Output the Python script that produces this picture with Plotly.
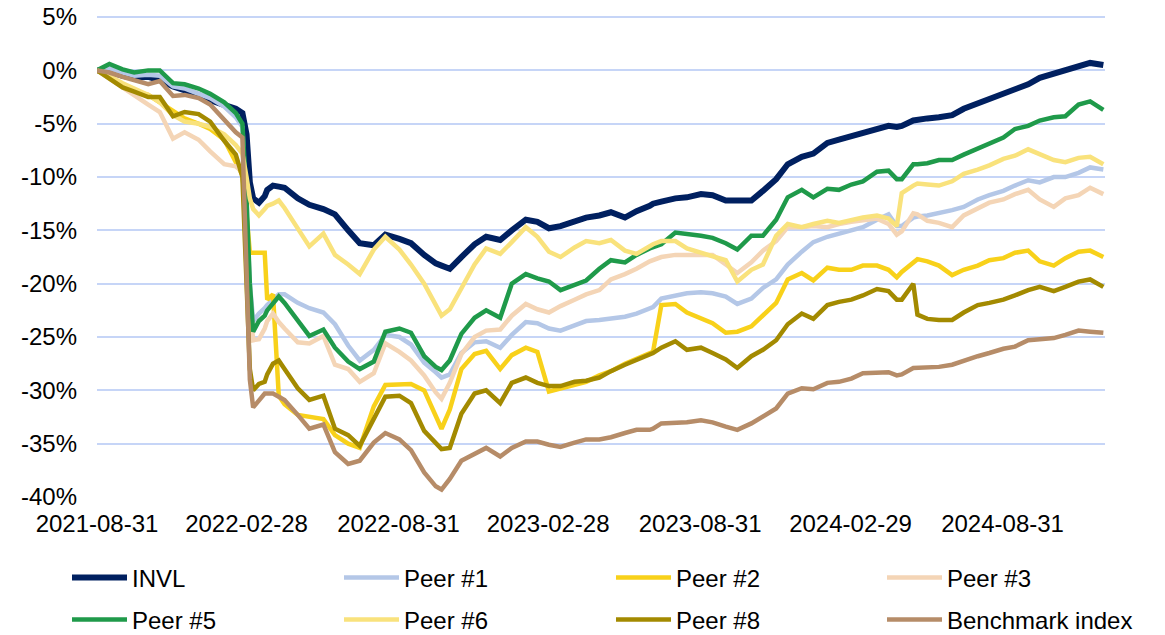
import plotly.graph_objects as go

dates = [
    "2021-08-31", "2021-09-15", "2021-10-01", "2021-10-15", "2021-11-01", "2021-11-15",
    "2021-12-01", "2021-12-15", "2022-01-01", "2022-01-15", "2022-02-01", "2022-02-15",
    "2022-02-23", "2022-02-28", "2022-03-04", "2022-03-08", "2022-03-15", "2022-03-22",
    "2022-03-25", "2022-04-01", "2022-04-08", "2022-04-15", "2022-05-01", "2022-05-15",
    "2022-06-01", "2022-06-15", "2022-07-01", "2022-07-15", "2022-08-01", "2022-08-15",
    "2022-09-01", "2022-09-15", "2022-10-01", "2022-10-15", "2022-10-22", "2022-11-01",
    "2022-11-15", "2022-12-01", "2022-12-15", "2023-01-01", "2023-01-15", "2023-02-01",
    "2023-02-15", "2023-03-01", "2023-03-15", "2023-04-01", "2023-04-15", "2023-05-01",
    "2023-05-15", "2023-06-01", "2023-06-15", "2023-07-01", "2023-07-05", "2023-07-15",
    "2023-08-01", "2023-08-15", "2023-09-01", "2023-09-15", "2023-10-01", "2023-10-15",
    "2023-11-01", "2023-11-15", "2023-12-01", "2023-12-15", "2024-01-01", "2024-01-15",
    "2024-02-01", "2024-02-15", "2024-03-01", "2024-03-15", "2024-04-01", "2024-04-15",
    "2024-04-25", "2024-05-01", "2024-05-15", "2024-05-20", "2024-06-01", "2024-06-15",
    "2024-07-01", "2024-07-15", "2024-08-01", "2024-08-15", "2024-09-01", "2024-09-15",
    "2024-10-01", "2024-10-15", "2024-11-01", "2024-11-15", "2024-12-01", "2024-12-15",
    "2024-12-31",
]

invl = [
    0.0, -0.1, -0.5, -0.7, -0.6, -0.9, -1.5, -1.8, -2.3, -2.8, -3.3, -3.6,
    -4.0, -6.0, -10.5, -12.0, -12.4, -11.8, -11.2, -10.8, -10.9, -11.0, -12.0, -12.6,
    -13.0, -13.5, -15.0, -16.2, -16.4, -15.4, -15.8, -16.2, -17.3, -18.1, -18.3, -18.6,
    -17.5, -16.3, -15.6, -15.9, -15.0, -14.0, -14.2, -14.8, -14.6, -14.2, -13.8, -13.6,
    -13.3, -13.8, -13.2, -12.7, -12.5, -12.3, -12.0, -11.9, -11.6, -11.7, -12.2, -12.2,
    -12.2, -11.3, -10.2, -8.8, -8.1, -7.8, -6.8, -6.5, -6.2, -5.9, -5.5, -5.2,
    -5.3, -5.2, -4.7, -4.6, -4.5, -4.4, -4.2, -3.6, -3.1, -2.7, -2.2, -1.9,
    -1.3, -0.7, -0.3, 0.0, 0.4, 0.7, 0.5,
]
peer1 = [
    0.0, 0.2, -0.2, -0.5, -0.4, -0.5, -1.5, -1.7, -2.2, -2.6, -3.4, -4.4,
    -5.3, -13.0, -20.0, -23.5, -22.8, -22.3, -22.0, -21.5, -21.0, -21.0, -21.8, -22.3,
    -22.7, -23.8, -25.8, -27.2, -26.2, -24.8, -25.0, -25.7, -27.4, -28.3, -28.8, -28.5,
    -26.5, -25.5, -25.4, -26.0, -24.8, -23.6, -23.7, -24.2, -24.4, -23.9, -23.5, -23.4,
    -23.3, -23.1, -22.8, -22.3, -22.2, -21.4, -21.1, -20.9, -20.8, -20.9, -21.2, -21.9,
    -21.4, -20.4, -19.6, -18.2, -17.0, -16.1, -15.6, -15.3, -14.9, -14.7, -14.0, -13.5,
    -14.6, -14.6, -13.8, -13.7, -13.6, -13.4, -13.1, -12.8, -12.1, -11.7, -11.3, -10.8,
    -10.3, -10.5, -10.0, -10.0, -9.6, -9.1, -9.3,
]
peer2 = [
    0.0, -0.7, -1.4, -2.0, -2.3, -3.0, -3.8, -4.5, -5.0, -5.5, -6.5, -8.5,
    -9.8, -13.5, -17.1, -17.1, -17.1, -17.1, -21.5, -21.0, -30.5, -31.3, -32.3, -32.5,
    -32.7, -34.2, -35.0, -35.4, -31.5, -29.5, -29.4, -29.4, -30.0, -32.4, -33.6, -31.8,
    -28.0, -26.6, -26.3, -28.0, -26.7, -26.0, -26.4, -30.1, -29.8, -29.4, -29.2, -28.6,
    -28.2, -27.5, -27.0, -26.5, -26.4, -22.0, -21.9, -22.7, -23.2, -23.7, -24.6, -24.5,
    -24.0, -23.0, -21.8, -19.6, -19.0, -19.7, -18.5, -18.7, -18.7, -18.3, -18.3, -18.7,
    -19.4, -18.9, -18.0, -17.7, -17.9, -18.3, -19.2, -18.7, -18.3, -17.8, -17.6, -17.1,
    -16.9, -17.9, -18.3, -17.6, -17.0, -16.9, -17.5,
]
peer3 = [
    0.0, -0.8, -1.6, -2.4, -3.2, -3.9, -6.4, -5.8, -6.5, -7.6, -8.8, -9.0,
    -9.5, -15.0, -22.0, -25.3, -25.2, -24.2, -23.5, -22.8, -23.6, -24.2, -25.5, -25.6,
    -24.9, -27.6, -28.0, -29.2, -28.4, -25.6, -26.4, -27.2, -28.6, -30.2, -30.8, -29.3,
    -26.6, -25.0, -24.4, -24.3, -23.0, -21.9, -22.4, -22.7, -22.1, -21.5, -21.0, -20.6,
    -19.6, -19.1, -18.6, -17.9, -17.8, -17.5, -17.3, -17.3, -17.2, -17.3, -18.2, -19.0,
    -18.0, -16.9, -16.0, -14.7, -14.7, -14.6, -14.7, -14.4, -14.2, -14.1, -13.9, -14.4,
    -15.4, -15.1, -13.4, -13.5, -14.1, -14.3, -14.7, -13.6, -13.0, -12.4, -12.1, -11.6,
    -11.2, -12.1, -12.8, -12.0, -11.7, -11.0, -11.6,
]
peer5 = [
    0.0, 0.6, 0.1, -0.2, 0.0, 0.0, -1.2, -1.3, -1.7, -2.2, -3.0, -4.0,
    -5.0, -12.0, -20.0, -24.5, -23.5, -23.0, -22.5, -21.8, -21.2, -21.8, -23.5, -24.9,
    -24.3, -26.0, -27.3, -28.0, -27.3, -24.5, -24.2, -24.6, -26.8, -27.8, -28.1, -27.2,
    -24.7, -23.2, -22.5, -23.2, -20.0, -19.1, -19.5, -19.8, -20.6, -20.1, -19.7, -18.6,
    -17.8, -18.0, -17.3, -16.7, -16.6, -16.3, -15.2, -15.3, -15.5, -15.7, -16.2, -16.8,
    -15.5, -15.5, -14.0, -11.9, -11.2, -11.9, -11.1, -11.2, -10.7, -10.4, -9.5, -9.4,
    -10.2, -10.2, -8.8, -8.8, -8.7, -8.4, -8.4, -7.9, -7.3, -6.9, -6.3, -5.5,
    -5.2, -4.7, -4.4, -4.3, -3.2, -2.9, -3.7,
]
peer6 = [
    0.0, -0.5, -1.2, -1.7, -2.3, -3.0, -4.2, -4.8, -5.0, -5.3, -6.0, -7.0,
    -7.8, -10.0, -12.0, -13.0, -13.6, -13.0, -12.7, -12.5, -12.2, -12.9, -14.8, -16.5,
    -15.3, -17.3, -18.2, -19.1, -16.8, -15.6, -16.8, -18.2, -20.0, -21.9, -23.0, -22.4,
    -20.5, -18.2, -16.7, -17.2, -16.1, -14.7, -15.6, -17.0, -17.5, -16.6, -16.0, -16.2,
    -15.9, -16.9, -17.2, -16.5, -16.3, -16.0, -16.0, -16.7, -17.1, -17.4, -17.8, -19.8,
    -18.7, -18.2, -15.5, -14.4, -14.7, -14.4, -14.1, -14.3, -14.0, -13.8, -13.6, -13.9,
    -14.6, -11.5, -10.8, -10.6, -10.7, -10.8, -10.4, -9.7, -9.3, -8.9, -8.3, -8.0,
    -7.4, -7.9, -8.4, -8.6, -8.2, -8.1, -8.8,
]
peer8 = [
    0.0, -0.8, -1.6, -2.0, -2.5, -2.5, -4.3, -3.9, -4.1, -4.8, -6.6, -7.9,
    -10.0, -20.0, -28.0, -30.0, -29.4, -29.2, -28.5, -27.5, -27.2, -28.0, -29.8, -30.9,
    -30.5, -33.6, -34.2, -35.2, -32.7, -30.6, -30.5, -31.2, -33.8, -35.0, -35.5, -35.4,
    -32.2, -30.3, -30.0, -31.2, -29.3, -28.8, -29.3, -29.6, -29.6, -29.2, -29.1, -28.8,
    -28.2, -27.6, -27.1, -26.6, -26.5, -26.0, -25.4, -26.2, -26.0, -26.5, -27.1, -27.9,
    -26.8, -26.2, -25.3, -23.8, -22.8, -23.3, -22.0, -21.7, -21.5, -21.1, -20.5, -20.7,
    -21.5, -21.5, -20.0, -22.9, -23.3, -23.4, -23.4, -22.7, -22.0, -21.8, -21.5, -21.1,
    -20.6, -20.3, -20.7, -20.3, -19.8, -19.6, -20.3,
]
benchmark = [
    0.0, -0.2, -0.6, -0.9, -1.3, -1.0, -2.4, -2.3, -2.6, -3.2, -4.6, -5.8,
    -6.3, -18.0, -29.0, -31.6, -31.0, -30.3, -30.3, -30.3, -30.6, -30.9, -32.3, -33.6,
    -33.2, -35.8, -36.9, -36.6, -34.9, -34.0, -34.6, -35.6, -37.7, -39.0, -39.3, -38.3,
    -36.6, -35.9, -35.4, -36.2, -35.4, -34.8, -34.8, -35.1, -35.3, -34.9, -34.6, -34.6,
    -34.4, -34.0, -33.7, -33.7, -33.6, -33.1, -33.1, -33.0, -32.8, -33.0, -33.4, -33.7,
    -33.1, -32.4, -31.7, -30.3, -29.8, -29.9, -29.3, -29.2, -28.9, -28.4, -28.3, -28.3,
    -28.6, -28.5, -27.9, -27.9, -27.8, -27.8, -27.6, -27.2, -26.8, -26.5, -26.1, -25.9,
    -25.3, -25.2, -25.1, -24.8, -24.4, -24.5, -24.6,
]

series_names = ["INVL", "Peer #1", "Peer #2", "Peer #3",
                "Peer #5", "Peer #6", "Peer #8", "Benchmark index"]
series_values = [invl, peer1, peer2, peer3, peer5, peer6, peer8, benchmark]
series_colors = ["#002060", "#B4C7E7", "#F8D11A", "#F4D5B6",
                 "#1F9A4A", "#F9E27C", "#A38A00", "#B68C68"]
series_widths = [6, 4.5, 4.5, 4.5, 4.5, 4.5, 4.5, 4.5]

x_tick_vals = ["2021-08-31", "2022-02-28", "2022-08-31", "2023-02-28",
               "2023-08-31", "2024-02-29", "2024-08-31"]
y_tick_vals = [5, 0, -5, -10, -15, -20, -25, -30, -35, -40]
y_tick_text = ["5%", "0%", "-5%", "-10%", "-15%", "-20%", "-25%", "-30%", "-35%", "-40%"]

FONT = "Liberation Sans, Arial, sans-serif"
FSIZE = 24

W, H = 1165, 635
legend_cols_px = [73, 345, 617, 888]     # left end of legend line sample
legend_rows_px = [578, 620]              # vertical centre of legend rows

fig = go.Figure()
legend_layout = {}
for i, (name, vals, col, w) in enumerate(zip(series_names, series_values,
                                             series_colors, series_widths)):
    key = "legend" if i == 0 else f"legend{i + 1}"
    fig.add_trace(go.Scatter(
        x=dates, y=vals, name=name, mode="lines",
        line=dict(color=col, width=w, shape="linear"),
        legend=key,
        hovertemplate="%{x}: %{y:.1f}%<extra>" + name + "</extra>",
    ))
    cx = legend_cols_px[i % 4] - 6
    cy = legend_rows_px[i // 4]
    legend_layout[key] = dict(
        orientation="h", xref="container", yref="container",
        x=cx / W, y=1 - cy / H, xanchor="left", yanchor="middle",
        itemwidth=55,
        font=dict(family=FONT, size=FSIZE, color="#000000"),
        bgcolor="rgba(0,0,0,0)",
    )

fig.update_layout(
    width=W, height=H,
    margin=dict(l=97, r=W - 1105, t=16, b=H - 497, autoexpand=False),
    paper_bgcolor="white", plot_bgcolor="white",
    font=dict(family=FONT, size=FSIZE, color="#000000"),
    showlegend=True,
    xaxis=dict(
        type="date", range=["2021-08-31", "2025-01-02"],
        tickvals=x_tick_vals, ticktext=x_tick_vals,
        showgrid=False, zeroline=False, showline=False, ticks="",
        ticklabelstandoff=10,
        tickfont=dict(family=FONT, size=FSIZE, color="#000000"),
    ),
    yaxis=dict(
        range=[-40, 5.1], tickvals=y_tick_vals, ticktext=y_tick_text,
        showgrid=True, gridcolor="#C6D5F7", gridwidth=1.5,
        zeroline=False, showline=False, ticks="",
        ticklabelstandoff=19,
        tickfont=dict(family=FONT, size=FSIZE, color="#000000"),
    ),
    **legend_layout,
)

fig.write_html("out.html",
               config={"displayModeBar": False},
               post_script="document.body.style.margin='0';document.body.style.overflow='hidden';")
